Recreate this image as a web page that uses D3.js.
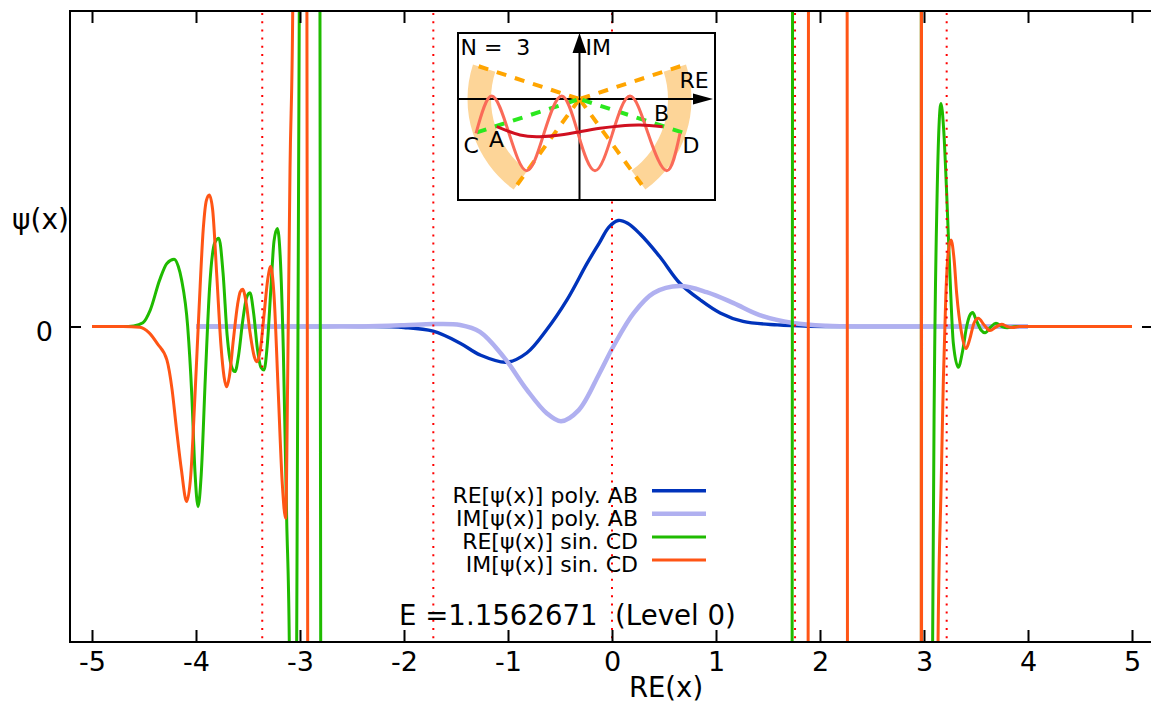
<!DOCTYPE html>
<html><head><meta charset="utf-8">
<script src="https://cdn.jsdelivr.net/npm/d3@7"></script>
<style>
body{margin:0;background:#fff}
svg{display:block}
text{font-family:"DejaVu Sans",sans-serif;white-space:pre}
</style>
</head><body>
<svg id="c" width="1151" height="704"></svg>
<script>
// ---------------- data ----------------
const xTicks = [-5,-4,-3,-2,-1,0,1,2,3,4,5];
const yTicks = [0];
const seriesNames = ["RE[ψ(x)] poly. AB","IM[ψ(x)] poly. AB","RE[ψ(x)] sin. CD","IM[ψ(x)] sin. CD"];
const xLabel = "RE(x)";
const yLabel = "ψ(x)";
const energyLabel = "E =1.1562671  (Level 0)";

const rePolyX = [-4.0,-3.0,-2.4,-2.0,-1.72,-1.46,-1.27,-1.01,-0.82,-0.63,-0.43,-0.24,-0.12,-0.03,0.06,0.15,0.27,0.46,0.65,0.85,1.04,1.26,1.59,1.9,2.4,3.0,4.0];
const rePolyY = [0,0,0,-0.003,-0.015,-0.053,-0.090,-0.113,-0.084,-0.011,0.086,0.200,0.266,0.315,0.336,0.327,0.293,0.221,0.138,0.084,0.043,0.016,0.005,0.001,0,0,0];

const imPolyX = [-4.0,-3.0,-2.42,-2.0,-1.72,-1.46,-1.27,-1.04,-0.82,-0.63,-0.49,-0.32,-0.12,0.01,0.21,0.40,0.65,0.91,1.17,1.42,1.74,2.06,2.5,3.0,4.0];
const imPolyY = [0,0,0,0.004,0.008,0.005,-0.017,-0.097,-0.20,-0.274,-0.30,-0.265,-0.148,-0.065,0.043,0.106,0.128,0.109,0.074,0.036,0.011,0.002,0,0,0];

const reSinX = [-5.0,-4.7,-4.6,-4.51,-4.44,-4.35,-4.28,-4.21,-4.17,-4.138,-4.08,-4.04,-4.01,-3.98,-3.95,-3.91,-3.87,-3.82,-3.78,-3.74,-3.70,-3.66,-3.625,-3.59,-3.55,-3.515,-3.481,-3.445,-3.41,-3.375,-3.346,-3.315,-3.28,-3.25,-3.218,-3.19,-3.16,-3.128,-3.103,-3.08,-3.05,-3.032,-3.007,-2.99,-2.83,-2.808,-2.801,-2.78,1.728,1.732,1.736,1.74,2.9725,2.9742,2.9752,2.977,3.06,3.083,3.10,3.125,3.145,3.163,3.19,3.218,3.25,3.282,3.33,3.37,3.41,3.44,3.468,3.50,3.55,3.587,3.64,3.692,3.75,3.80,3.88,4.0,5.0];
const reSinY = [0,0,0.002,0.012,0.052,0.147,0.200,0.213,0.190,0.147,0.0,-0.22,-0.46,-0.571,-0.47,-0.16,0.12,0.265,0.280,0.17,-0.03,-0.125,-0.143,-0.09,0.02,0.09,0.107,0.04,-0.07,-0.13,-0.138,-0.06,0.12,0.27,0.311,0.22,-0.08,-0.613,-1.0,-4,-4,-1.0,1.0,4,4,1.0,-1.0,-4,-4,-1.0,1.0,4,4,1.0,-1.0,-4,-4,-1.0,-0.17,0.40,0.64,0.707,0.62,0.422,0.158,-0.053,-0.129,-0.08,0.0,0.035,0.044,0.022,-0.012,-0.020,-0.002,0.010,0.0,-0.004,0.0,0,0];

const imSinX = [-5.0,-4.7,-4.54,-4.45,-4.37,-4.28,-4.23,-4.19,-4.14,-4.09,-4.05,-4.01,-3.97,-3.93,-3.90,-3.872,-3.84,-3.80,-3.76,-3.73,-3.705,-3.68,-3.64,-3.60,-3.575,-3.551,-3.52,-3.48,-3.44,-3.411,-3.38,-3.345,-3.31,-3.282,-3.25,-3.21,-3.17,-3.138,-3.118,-3.096,-3.07,-3.05,-2.945,-2.9335,-2.926,-2.91,1.88,1.886,1.889,1.895,2.256,2.261,2.264,2.27,2.9725,2.9738,2.9745,2.9752,2.9759,2.9766,2.978,3.12,3.135,3.165,3.186,3.21,3.235,3.26,3.29,3.314,3.362,3.404,3.44,3.48,3.522,3.58,3.635,3.69,3.747,3.80,3.85,3.92,4.0,5.0];
const imSinY = [0,0,-0.002,-0.02,-0.055,-0.106,-0.2,-0.318,-0.455,-0.555,-0.47,-0.22,0.06,0.31,0.40,0.417,0.37,0.16,-0.06,-0.16,-0.191,-0.16,-0.04,0.07,0.11,0.118,0.08,-0.02,-0.095,-0.112,-0.07,0.04,0.15,0.190,0.10,-0.2,-0.5,-0.608,-0.15,0.5,1.0,4,4,1.0,-1.0,-4,-4,-1.0,1.0,4,4,1.0,-1.0,-4,-4,-1.0,1.0,4,1.0,-1.0,-4,-4,-1.0,-0.5,-0.17,0.1,0.24,0.274,0.21,0.105,-0.022,-0.070,-0.04,0.01,0.026,0.004,-0.013,-0.002,0.007,0.0,-0.003,0.0,0,0];

const turningPoints = [-3.363,-1.718,0,1.76,3.218];

// inset (complex plane sketch), inset units
const insetTitle = "N =  3";
const wedgesDeg = [[162,234],[-54,18]];
const boundaryRaysDeg = [162,234,18,-54];
const centerRaysDeg = [198,-18];
const sineX = [-1.035,-0.878,-0.705,-0.528,-0.355,-0.178,-0.015,0.155,0.33,0.505,0.685,0.872,1.005];
const sineY = [-0.343,0.03,-0.343,-0.717,-0.343,0.03,-0.343,-0.717,-0.343,0.03,-0.343,-0.717,-0.343];
const pathABX = [-0.828,-0.595,-0.395,-0.195,0.005,0.205,0.405,0.605,0.832];
const pathABY = [-0.277,-0.36,-0.377,-0.36,-0.327,-0.293,-0.27,-0.26,-0.277];
const insetLabels = ["IM","RE","A","B","C","D"];
const insetLabelX = [0.06,1.0,-0.905,0.745,-1.16,1.03];
const insetLabelY = [0.44,0.107,-0.477,-0.22,-0.543,-0.537];

// ---------------- drawing ----------------
const svg = d3.select("#c");
const FONT = "DejaVu Sans, sans-serif";
const L=70, T=11, B=642;
const x = d3.scaleLinear().domain([-5.2,5.2]).range([71.2,1152.8]);
const y = d3.scaleLinear().domain([-1,1]).range([B,T]);

svg.append("defs").append("clipPath").attr("id","plot")
  .append("rect").attr("x",L).attr("y",T).attr("width",1153-L).attr("height",B-T);

const colors = ["#0033bb","#b0b0f0","#1fbb00","#ff5515"];
const widths = [3.4,4.5,3,3];
const curves = [d3.curveCatmullRom.alpha(0.5),d3.curveCatmullRom.alpha(0.5),d3.curveMonotoneX,d3.curveMonotoneX];
const series = [[rePolyX,rePolyY],[imPolyX,imPolyY],[reSinX,reSinY],[imSinX,imSinY]];

const gCurves = svg.append("g").attr("clip-path","url(#plot)");
series.forEach((s,i)=>{
  const line = d3.line().x(d=>x(d[0])).y(d=>y(d[1])).curve(curves[i]);
  const pts = s[0].map((v,j)=>[v,s[1][j]]);
  gCurves.append("path").attr("d",line(pts)).attr("fill","none")
    .attr("stroke",colors[i]).attr("stroke-width",widths[i]).attr("stroke-linejoin","round");
});

// dotted turning point lines
gCurves.selectAll("line.tp").data(turningPoints).join("line").attr("class","tp")
  .attr("x1",d=>x(d)).attr("x2",d=>x(d)).attr("y1",T+2).attr("y2",B)
  .attr("stroke","#ff0000").attr("stroke-width",2).attr("stroke-dasharray","2,6.2");

// axes
const gx = svg.append("g").attr("transform",`translate(0,${B})`)
  .call(d3.axisBottom(x).tickValues(xTicks).tickFormat(d=>String(d)).tickSizeInner(-12).tickSizeOuter(0).tickPadding(10));
const gxt = svg.append("g").attr("transform",`translate(0,${T})`)
  .call(d3.axisTop(x).tickValues(xTicks).tickFormat("").tickSizeInner(-12).tickSizeOuter(0));
const gy = svg.append("g").attr("transform",`translate(${L},0)`)
  .call(d3.axisLeft(y).tickValues(yTicks).tickFormat(d=>String(d)).tickSizeInner(-11).tickSizeOuter(0).tickPadding(17));
const gyr = svg.append("g").attr("transform",`translate(1153,0)`)
  .call(d3.axisRight(y).tickValues(yTicks).tickFormat("").tickSizeInner(-11).tickSizeOuter(0));
[gx,gxt,gy,gyr].forEach(g=>{
  g.select(".domain").remove();
  g.attr("font-size",27).attr("font-family",FONT);
  g.selectAll(".tick line").attr("stroke","#000").attr("stroke-width",2);
  g.selectAll(".tick text").attr("fill","#000");
});
gy.selectAll(".tick text").attr("dy","0.5em");

// frame
svg.append("rect").attr("x",L).attr("y",T).attr("width",1153-L).attr("height",B-T)
  .attr("fill","none").attr("stroke","#000").attr("stroke-width",2);

// axis labels
svg.append("text").attr("x",666).attr("y",697).attr("text-anchor","middle")
  .attr("font-size",27.5).attr("font-family",FONT).text(xLabel);
svg.append("text").attr("x",69).attr("y",229).attr("text-anchor","end")
  .attr("font-size",28).attr("font-family",FONT).text(yLabel);

// energy label
svg.append("text").attr("x",399).attr("y",625)
  .attr("font-size",27.6).attr("font-family",FONT).text(energyLabel);

// legend
const legRows = [490.7,513.8,536.9,560];
const gl = svg.append("g");
seriesNames.forEach((n,i)=>{
  gl.append("text").attr("x",638).attr("y",legRows[i]+12).attr("text-anchor","end")
    .attr("font-size",22).attr("font-family",FONT).text(n);
  gl.append("line").attr("x1",652).attr("x2",706).attr("y1",legRows[i]).attr("y2",legRows[i])
    .attr("stroke",colors[i]).attr("stroke-width",widths[i]);
});

// ---------------- inset ----------------
const ix = d3.scaleLinear().domain([-1.215,1.355]).range([458,715]);
const iy = d3.scaleLinear().domain([-1.01,0.66]).range([200,33]);
const ox = ix(0), oy = iy(0);
const unitR = ix(1)-ix(0);
const gi = svg.append("g");
gi.append("rect").attr("x",458).attr("y",33).attr("width",257).attr("height",167)
  .attr("fill","#fff").attr("stroke","#000").attr("stroke-width",2);
const rad = d=>d*Math.PI/180;
// stokes wedges
const arc = d3.arc().innerRadius(unitR*0.885).outerRadius(unitR*1.12);
wedgesDeg.forEach(w=>{
  const a0 = Math.PI/2 - rad(w[1]), a1 = Math.PI/2 - rad(w[0]);
  gi.append("path").attr("transform",`translate(${ox},${oy})`)
    .attr("d",arc({startAngle:a0,endAngle:a1})).attr("fill","#fdd598");
});
// axes
gi.append("line").attr("x1",458).attr("x2",700).attr("y1",oy).attr("y2",oy).attr("stroke","#000").attr("stroke-width",2);
gi.append("line").attr("x1",ox).attr("x2",ox).attr("y1",200).attr("y2",46).attr("stroke","#000").attr("stroke-width",2);
gi.append("path").attr("d",`M${ix(1.335)},${oy} L${ix(1.135)},${oy-5.5} L${ix(1.135)},${oy+5.5}Z`).attr("fill","#000");
gi.append("path").attr("d",`M${ox},${iy(0.66)} L${ox-7},${iy(0.46)} L${ox+7},${iy(0.46)}Z`).attr("fill","#000");
// boundary rays
boundaryRaysDeg.forEach(a=>{
  gi.append("line").attr("x1",ix(1.06*Math.cos(rad(a)))).attr("y1",iy(1.06*Math.sin(rad(a))))
    .attr("x2",ox).attr("y2",oy).attr("stroke","#ffa500").attr("stroke-width",4).attr("stroke-dasharray","10,9");
});
centerRaysDeg.forEach(a=>{
  gi.append("line").attr("x1",ix(1.08*Math.cos(rad(a)))).attr("y1",iy(1.08*Math.sin(rad(a))))
    .attr("x2",ox).attr("y2",oy).attr("stroke","#2be81e").attr("stroke-width",4).attr("stroke-dasharray","10,9");
});
const iline = d3.line().x(d=>ix(d[0])).y(d=>iy(d[1])).curve(d3.curveNatural);
gi.append("path").attr("d",iline(sineX.map((v,j)=>[v,sineY[j]]))).attr("fill","none")
  .attr("stroke","#fa6a58").attr("stroke-width",3);
gi.append("path").attr("d",iline(pathABX.map((v,j)=>[v,pathABY[j]]))).attr("fill","none")
  .attr("stroke","#d01020").attr("stroke-width",3);
gi.append("text").attr("x",ix(-1.19)).attr("y",iy(0.44)).attr("font-size",22).attr("font-family",FONT).text(insetTitle);
insetLabels.forEach((t,i)=>{
  gi.append("text").attr("x",ix(insetLabelX[i])).attr("y",iy(insetLabelY[i]))
    .attr("font-size",22).attr("font-family",FONT).text(t);
});
</script>
</body></html>
